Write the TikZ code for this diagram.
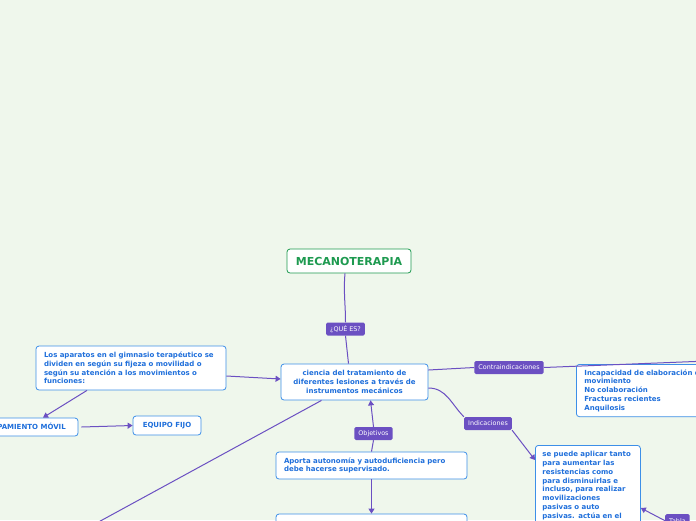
\documentclass[tikz,border=0pt]{standalone}
\usepackage{fontspec}
\setmainfont{DejaVu Sans}
\usetikzlibrary{positioning}
\usetikzlibrary{arrows.meta}
\definecolor{fondo}{HTML}{EFF7EC}
\definecolor{lila}{HTML}{6B50C2}
\definecolor{azul}{HTML}{1F6FDB}
\definecolor{borde}{HTML}{3D8FE8}
\definecolor{verde}{HTML}{1E9A50}
\tikzset{tema/.style = {draw=borde, fill=white, rounded corners=3pt, line width=0.8pt, text=azul,
    font=\bfseries\fontsize{7}{8.8}\selectfont, inner xsep=8pt, inner ysep=5pt}}
\tikzset{etiqueta/.style = {fill=lila, rounded corners=1.5pt, text=white,
    font=\fontsize{6.4}{7}\selectfont, inner xsep=4pt, inner ysep=0pt, minimum height=13pt}}
\tikzset{rama/.style = {draw=lila, line width=1pt}}
\tikzset{flecha/.style = {rama, -{Triangle[length=5pt,width=6pt]}}}

\begin{document}
\begin{tikzpicture}[x=1pt, y=-1pt]
    \fill[fondo] (0,0) rectangle (696,520);
    \useasboundingbox (0,0) rectangle (696,520);
    % cajas
    \node[tema, draw=verde, text=verde, font=\bfseries\fontsize{11}{12}\selectfont, inner sep=0pt,
        minimum width=124pt, minimum height=24pt] (raiz) at (349,261) {MECANOTERAPIA};
    \node[tema, align=center, inner sep=0pt, minimum width=147pt, minimum height=36pt] (ciencia) at (354.5,382)
        {ciencia del tratamiento de\\diferentes lesiones a través de\\instrumentos mecánicos};
    \node[tema, align=left, text width=174pt, inner ysep=0pt, minimum height=44pt] (aparatos) at (131,368)
        {Los aparatos en el gimnasio terapéutico se\\dividen en según su fijeza o movilidad o\\según su atención a los movimientos o\\funciones:};
    \node[tema, inner sep=0pt, minimum width=112pt, minimum height=18pt] (movil) at (22,427) {EQUIPAMIENTO MÓVIL};
    \node[tema, inner sep=0pt, minimum width=68pt, minimum height=19pt] (fijo) at (167,425.5) {EQUIPO FIJO};
    \node[tema, align=left, text width=175pt, inner ysep=0pt, minimum height=27pt] (aporta) at (371.5,465.5)
        {Aporta autonomía y autoduficiencia pero\\debe hacerse supervisado.};
    \node[tema, inner sep=0pt, minimum width=191pt, minimum height=30pt] (siguiente) at (371.5,529) {};
    \node[tema, align=left, text width=170pt, anchor=north west] (contra) at (576,364)
        {Incapacidad de elaboración del\\movimiento\\No colaboración\\Fracturas recientes\\Anquilosis};
    \node[tema, align=left, text width=91pt, inner xsep=7pt, inner ysep=6pt, anchor=north west] (aplica) at (535,445)
        {se puede aplicar tanto\\para aumentar las\\resistencias como\\para disminuirlas e\\incluso, para realizar\\movilizaciones\\pasivas o auto\\pasivas. actúa en el\\};
    % etiquetas
    \node[etiqueta] (quees) at (345.5,329) {¿QUÉ ES?};
    \node[etiqueta] (objetivos) at (373.5,433.5) {Objetivos};
    \node[etiqueta] (contraind) at (509,367.5) {Contraindicaciones};
    \node[etiqueta] (indicaciones) at (488,423.5) {Indicaciones};
    \node[etiqueta, anchor=north west] (tabla) at (665,514) {Tabla};
    \coordinate (lejos) at (60,543);
    \coordinate (derecha) at (720,360.5);
    % ramas
    \draw[rama] ([xshift=-4pt]raiz.south) to[out=-95,in=90] (quees.north);
    \draw[rama] (quees.south) -- ([xshift=-6pt]ciencia.north);
    \draw[flecha] ([yshift=-8pt]aparatos.east) -- ([yshift=3pt]ciencia.west);
    \draw[flecha] ([xshift=-44pt]aparatos.south) -- ([xshift=21pt]movil.north);
    \draw[flecha] ([xshift=3pt]movil.east) -- (fijo.west);
    \draw[rama] ([xshift=-33pt]ciencia.south) -- (lejos);
    \draw[flecha] (objetivos.north) -- ([xshift=16pt]ciencia.south);
    \draw[rama] (objetivos.south) -- (aporta.north);
    \draw[flecha] (aporta.south) -- (siguiente.north);
    \draw[rama] ([yshift=12pt]ciencia.east) -- (contraind.west);
    \draw[rama] (contraind.east) -- (derecha);
    \draw[rama] ([yshift=-6pt]ciencia.east) to[out=0,in=135] (indicaciones.north west);
    \draw[flecha] (indicaciones.south east) -- ([yshift=-15pt]aplica.north west);
    \draw[flecha] (tabla.west) -- ([yshift=-63pt]aplica.north east);
\end{tikzpicture}
\end{document}
